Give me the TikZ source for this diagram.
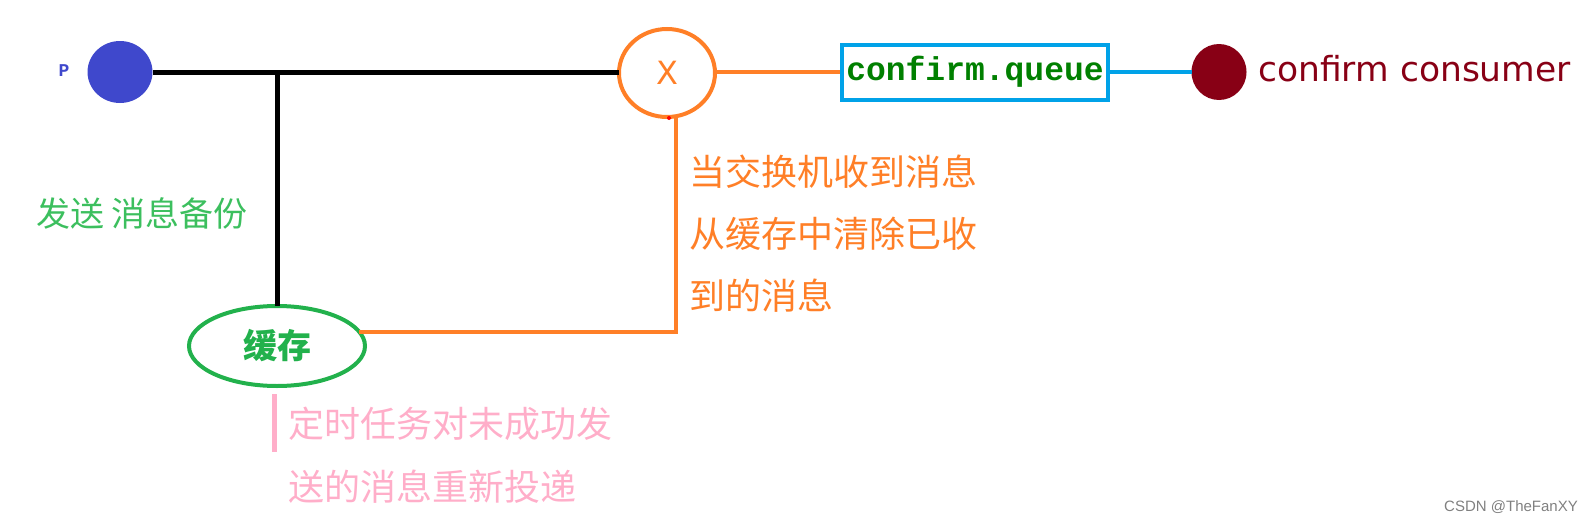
\documentclass[tikz,border=0pt]{standalone}
\usepackage{fontspec}
\setmainfont{DejaVu Sans}
\newfontfamily\cjk{Noto Sans CJK SC}
\newfontfamily\monof{Liberation Mono}
\newfontfamily\arialf{Liberation Sans}
\usetikzlibrary{shapes.geometric}
\definecolor{pblue}{HTML}{3F48CC}
\definecolor{xorange}{HTML}{FF7F27}
\definecolor{cgreen}{HTML}{22B14C}
\definecolor{sgreen}{HTML}{3CBF5E}
\definecolor{qblue}{HTML}{00A2E8}
\definecolor{qgreen}{HTML}{008000}
\definecolor{dred}{HTML}{880015}
\definecolor{lpink}{HTML}{FFAEC9}
\tikzset{
  dot/.style={ellipse, inner sep=0pt, outer sep=0pt},
  blk/.style={line width=5pt, black},
  org/.style={line width=4pt, xorange},
  cjktext/.style={inner sep=0pt, anchor=west, align=left, font=\cjk\fontsize{36}{62}\selectfont}
}
\begin{document}
\begin{tikzpicture}[x=1pt,y=-1pt]
\useasboundingbox (0,0) rectangle (1591,522);
% nodes
\node[inner sep=0pt, text=pblue, font=\monof\bfseries\fontsize{18}{18}\selectfont] (plabel) at (64,71) {P};
\node[dot, fill=pblue, minimum width=65pt, minimum height=62pt] (p) at (120,72) {};
\node[dot, draw=xorange, line width=4pt, minimum width=96pt, minimum height=88pt, text=xorange, font=\fontsize{32}{32}\selectfont] (x) at (667,73) {X};
\node[draw=qblue, line width=4pt, minimum width=266pt, minimum height=55pt, inner sep=0pt, text=qgreen, font=\monof\bfseries\fontsize{33}{33}\selectfont] (q) at (975,72) {confirm.queue};
\node[dot, fill=dred, minimum width=55pt, minimum height=56pt] (c) at (1219,72) {};
\node[inner sep=0pt, anchor=west, text=dred, font=\fontsize{34.5}{34.5}\selectfont] (clabel) at (1258,69) {confirm consumer};
\node[dot, draw=cgreen, line width=4pt, minimum width=176pt, minimum height=80pt, text=cgreen, font=\cjk\bfseries\fontsize{34}{34}\selectfont] (cache) at (277,346) {缓存};
\coordinate (j) at (277,72);
% connectors
\draw[blk] (p.east) -- (p.east -| x.west);
\draw[blk] (j) -- (cache.north);
\draw[org] (x.east |- q.west) -- (q.west);
\draw[line width=4pt, qblue] (q.east) -- (c.west);
\draw[org] (x.-78) |- (cache.10);
\fill[red] (669,118) circle (2pt);
% labels
\node[cjktext, text=sgreen, font=\cjk\fontsize{34}{34}\selectfont] (send) at (36,213) {发送 消息备份};
\node[cjktext, text=xorange] (olabel) at (689,234) {当交换机收到消息\\从缓存中清除已收\\到的消息};
\coordinate (pk1) at (274,394);
\coordinate (pk2) at (274,452);
\draw[line width=5pt, lpink] (pk1) -- (pk2);
\node[cjktext, text=lpink, font=\cjk\fontsize{36}{63}\selectfont] (pklabel) at (288,455) {定时任务对未成功发\\送的消息重新投递};
\node[inner sep=0pt, anchor=east, text=gray, font=\arialf\fontsize{15}{15}\selectfont] (wm) at (1578,507) {CSDN @TheFanXY};
\end{tikzpicture}
\end{document}
